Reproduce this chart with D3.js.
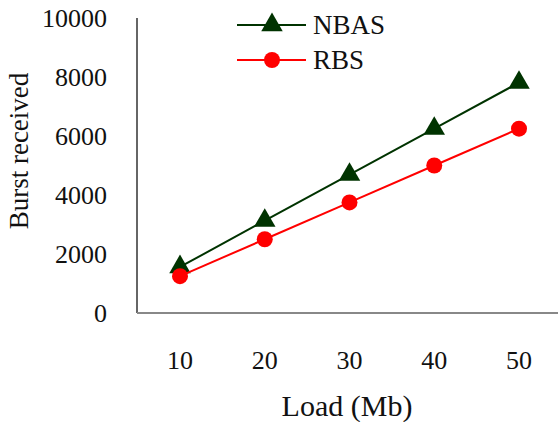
<!DOCTYPE html>
<html><head><meta charset="utf-8">
<script src="https://cdn.jsdelivr.net/npm/d3@7"></script>
<style>html,body{margin:0;padding:0;background:#fff;}svg{display:block;}</style>
</head><body>
<svg id="c" width="558" height="422"></svg>
<script>
const loads = [10, 20, 30, 40, 50];
const nbas = [1560, 3130, 4690, 6250, 7810];
const rbs = [1250, 2500, 3750, 5000, 6250];
const yTicks = [0, 2000, 4000, 6000, 8000, 10000];
const seriesNames = ["NBAS", "RBS"];

const svg = d3.select("#c");
const font = "'Liberation Serif','Times New Roman',serif";
const x = d3.scaleLinear().domain([10, 50]).range([180, 519]);
const y = d3.scaleLinear().domain([0, 10000]).range([313, 18]);

// axes lines
svg.append("line").attr("x1", 137).attr("x2", 137).attr("y1", 18).attr("y2", 313)
  .attr("stroke", "#333").attr("stroke-width", 1.5);
svg.append("line").attr("x1", 137).attr("x2", 558).attr("y1", 313).attr("y2", 313)
  .attr("stroke", "#888").attr("stroke-width", 2);

// y tick labels
svg.append("g").selectAll("text").data(yTicks).join("text")
  .attr("x", 107).attr("y", d => y(d)).attr("dy", "0.35em")
  .attr("text-anchor", "end").attr("font-family", font).attr("font-size", 26)
  .attr("fill", "#111").text(d => d);

// x tick labels
svg.append("g").selectAll("text").data(loads).join("text")
  .attr("x", d => x(d)).attr("y", 360).attr("dy", "0.35em")
  .attr("text-anchor", "middle").attr("font-family", font).attr("font-size", 26)
  .attr("fill", "#111").text(d => d);

// titles
svg.append("text").attr("x", 347).attr("y", 405).attr("dy", "0.35em")
  .attr("text-anchor", "middle").attr("font-family", font).attr("font-size", 30)
  .attr("fill", "#111").text("Load (Mb)");
svg.append("text").attr("transform", "translate(19,151) rotate(-90)").attr("dy", "0.35em")
  .attr("text-anchor", "middle").attr("font-family", font).attr("font-size", 27)
  .attr("fill", "#111").text("Burst received");

const line = d3.line().x((d, i) => x(loads[i])).y(d => y(d));
const colors = ["#003300", "#ff0000"];
const triangle = d3.symbol().type(d3.symbolTriangle).size(200);

// NBAS
svg.append("path").datum(nbas).attr("d", line).attr("fill", "none")
  .attr("stroke", colors[0]).attr("stroke-width", 2);
svg.append("g").selectAll("path").data(nbas).join("path")
  .attr("transform", (d, i) => `translate(${x(loads[i])},${y(d)})`)
  .attr("d", triangle).attr("fill", colors[0]);

// RBS
svg.append("path").datum(rbs).attr("d", line).attr("fill", "none")
  .attr("stroke", colors[1]).attr("stroke-width", 2);
svg.append("g").selectAll("circle").data(rbs).join("circle")
  .attr("cx", (d, i) => x(loads[i])).attr("cy", d => y(d)).attr("r", 8)
  .attr("fill", colors[1]);

// legend
const lg = svg.append("g");
[25, 60].forEach((ly, k) => {
  lg.append("line").attr("x1", 237).attr("x2", 306).attr("y1", ly).attr("y2", ly)
    .attr("stroke", colors[k]).attr("stroke-width", 2);
  if (k === 0) {
    lg.append("path").attr("transform", `translate(272,${ly})`).attr("d", triangle).attr("fill", colors[0]);
  } else {
    lg.append("circle").attr("cx", 272).attr("cy", ly).attr("r", 8).attr("fill", colors[1]);
  }
  lg.append("text").attr("x", 313).attr("y", ly).attr("dy", "0.35em")
    .attr("font-family", font).attr("font-size", 27).attr("fill", "#111").text(seriesNames[k]);
});
</script>
</body></html>
